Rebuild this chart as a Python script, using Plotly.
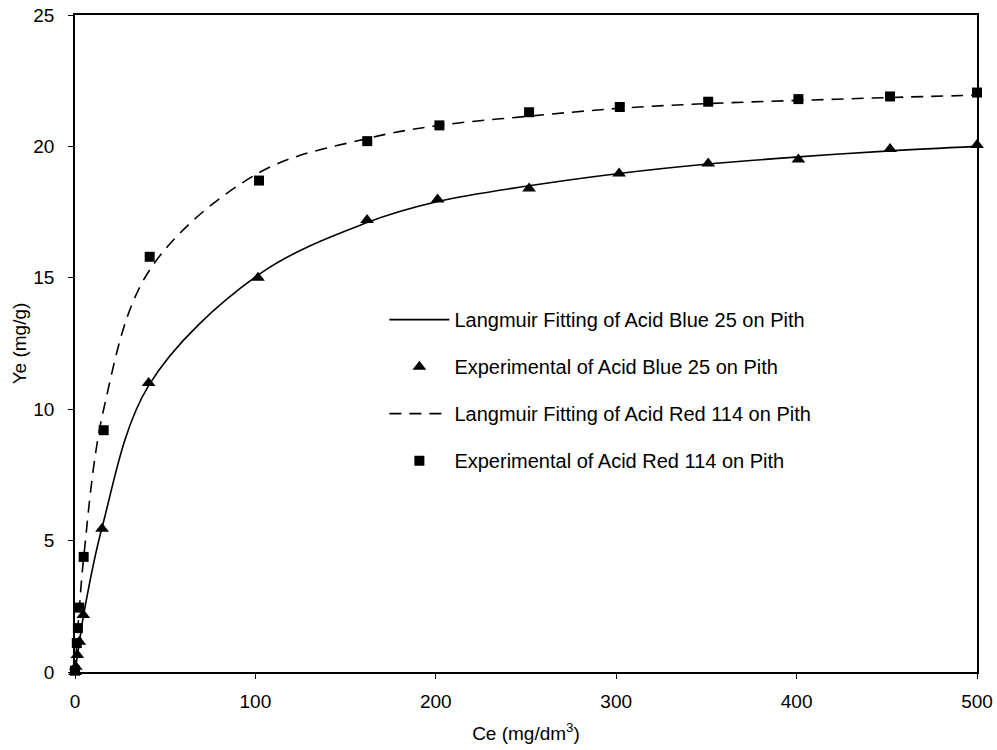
import plotly.graph_objects as go

# Acid Blue 25 on Pith
ce_blue = [0.0, 0.4, 1.3, 2.4, 4.6, 15.0, 40.8, 101.4, 161.9, 201.0, 251.7, 301.6, 351.0, 401.0, 451.8, 500.0]
ye_blue_exp = [0.0, 0.2, 0.65, 1.15, 2.17, 5.45, 11.0, 15.0, 17.2, 17.98, 18.4, 18.97, 19.35, 19.5, 19.9, 20.05]
ye_blue_fit = [0.0, 0.2, 0.6, 1.1, 2.1, 5.5, 10.9, 15.1, 17.1, 17.9, 18.5, 18.97, 19.33, 19.6, 19.83, 20.0]

# Acid Red 114 on Pith
ce_red = [0.0, 1.0, 1.6, 2.4, 4.8, 15.9, 41.4, 102.0, 162.0, 202.0, 251.7, 302.0, 351.0, 401.0, 451.8, 500.0]
ye_red_exp = [0.05, 1.1, 1.67, 2.45, 4.38, 9.2, 15.8, 18.7, 20.2, 20.8, 21.3, 21.5, 21.7, 21.8, 21.9, 22.05]
ye_red_fit = [0.0, 1.06, 1.68, 2.4, 4.35, 10.0, 15.3, 19.0, 20.3, 20.8, 21.15, 21.45, 21.63, 21.75, 21.86, 21.95]

names = [
    "Langmuir Fitting of Acid Blue 25 on Pith",
    "Experimental of Acid Blue 25 on Pith",
    "Langmuir Fitting of Acid Red 114 on Pith",
    "Experimental of Acid Red 114 on Pith",
]

FONT = "Arial, Liberation Sans, sans-serif"

fig = go.Figure()
fig.add_trace(go.Scatter(x=ce_blue, y=ye_blue_fit, mode="lines", name=names[0],
                         line=dict(color="black", width=1.6, shape="spline"),
                         legendgroup="a"))
fig.add_trace(go.Scatter(x=ce_blue, y=ye_blue_exp, mode="markers", name=names[1],
                         marker=dict(symbol="triangle-up", size=12, color="black"),
                         legendgroup="b", cliponaxis=False))
fig.add_trace(go.Scatter(x=ce_red, y=ye_red_fit, mode="lines", name=names[2],
                         line=dict(color="black", width=1.6, shape="spline", dash="12px,8px"),
                         legendgroup="c"))
fig.add_trace(go.Scatter(x=ce_red, y=ye_red_exp, mode="markers", name=names[3],
                         marker=dict(symbol="square", size=10, color="black"),
                         legendgroup="d", cliponaxis=False))

fig.update_layout(
    width=997, height=750,
    margin=dict(l=75, r=20, t=15, b=78),
    paper_bgcolor="white", plot_bgcolor="white",
    font=dict(family=FONT, size=19, color="black"),
    showlegend=True,
    legend=dict(
        x=0.343, y=0.566, xanchor="left", yanchor="top",
        bgcolor="rgba(0,0,0,0)", borderwidth=0,
        font=dict(family=FONT, size=20, color="black"),
        tracegroupgap=18, itemwidth=60,
    ),
    xaxis=dict(
        range=[0, 500], dtick=100, tick0=0, automargin=False,
        showgrid=False, zeroline=False,
        showline=True, linecolor="black", linewidth=1.5, mirror=True,
        ticks="outside", ticklen=5, tickcolor="black", tickwidth=1,
        ticklabelstandoff=6,
        title=dict(text="Ce (mg/dm<sup>3</sup>)", font=dict(size=19, color="black"), standoff=16),
        tickfont=dict(size=19, color="black"),
    ),
    yaxis=dict(
        range=[0, 25], dtick=5, tick0=0, automargin=False,
        showgrid=False, zeroline=False,
        showline=True, linecolor="black", linewidth=1.5, mirror=True,
        ticks="outside", ticklen=5, tickcolor="black", tickwidth=1,
        ticklabelstandoff=10,
        title=dict(text="Ye (mg/g)", font=dict(size=19, color="black"), standoff=2),
        tickfont=dict(size=19, color="black"),
    ),
)

fig.write_html("out.html")
